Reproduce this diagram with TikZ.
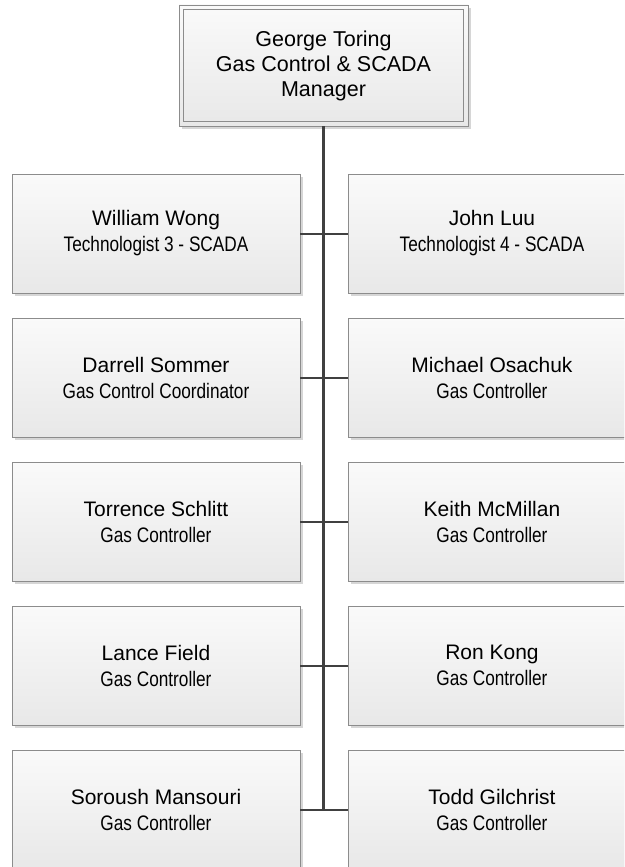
\documentclass[tikz,border=0pt]{standalone}
\usepackage{fontspec}
\setmainfont{Liberation Sans}
\newfontfamily\narrowfont{Liberation Sans}[FakeStretch=0.82]
\usetikzlibrary{shadows}
\definecolor{boxline}{HTML}{8C8C8C}
\definecolor{linkline}{HTML}{404040}
\tikzset{
  person/.style={draw=boxline, line width=0.9pt,
    top color=white!98!black, bottom color=white!91!black,
    minimum width=288pt, minimum height=119pt, inner sep=0pt,
    align=center, font=\fontsize{21}{26}\selectfont,
    drop shadow={shadow xshift=3pt, shadow yshift=-3pt, fill=black!20, opacity=0.8}},
  head/.style={person, minimum width=289pt, minimum height=121pt,
    font=\fontsize{21.5}{25}\selectfont},
  spine/.style={draw=linkline, line width=3.2pt},
  branch/.style={draw=linkline, line width=2pt}
}
\newcommand{\role}[1]{{\narrowfont #1}}
\begin{document}
\begin{tikzpicture}[x=1pt,y=-1pt]
\clip (0,0) rectangle (624,867);
\fill[white] (0,0) rectangle (624,867);

% manager box with its inner frame
\node[head] (mgr) at (323.5,65.5) {George Toring\\Gas Control \& SCADA\\Manager};
\draw[boxline, line width=0.9pt] ([shift={(5pt,-5pt)}]mgr.north west) rectangle ([shift={(-5pt,5pt)}]mgr.south east);

% staff boxes
\node[person] (l1) at (156,233.5) {William Wong\\\role{Technologist 3 - SCADA}};
\node[person] (r1) at (492,233.5) {John Luu\\\role{Technologist 4 - SCADA}};
\node[person] (l2) at (156,377.5) {Darrell Sommer\\\role{Gas Control Coordinator}};
\node[person] (r2) at (492,377.5) {Michael Osachuk\\\role{Gas Controller}};
\node[person] (l3) at (156,521.5) {Torrence Schlitt\\\role{Gas Controller}};
\node[person] (r3) at (492,521.5) {Keith McMillan\\\role{Gas Controller}};
\node[person] (l4) at (156,665.5) {Lance Field\\\role{Gas Controller}};
\node[person] (r4) at (492,665.5) {Ron Kong\\\role{Gas Controller}};
\node[person] (l5) at (156,809.5) {Soroush Mansouri\\\role{Gas Controller}};
\node[person] (r5) at (492,809.5) {Todd Gilchrist\\\role{Gas Controller}};

% branches from each pair of boxes to the spine
\foreach \i in {1,...,5}{
  \draw[branch] (l\i.east) -- (r\i.west);
}
\coordinate (spineend) at (mgr.south |- l5.east);
\draw[spine] (mgr.south) -- ([yshift=-1pt]spineend);
\end{tikzpicture}
\end{document}
